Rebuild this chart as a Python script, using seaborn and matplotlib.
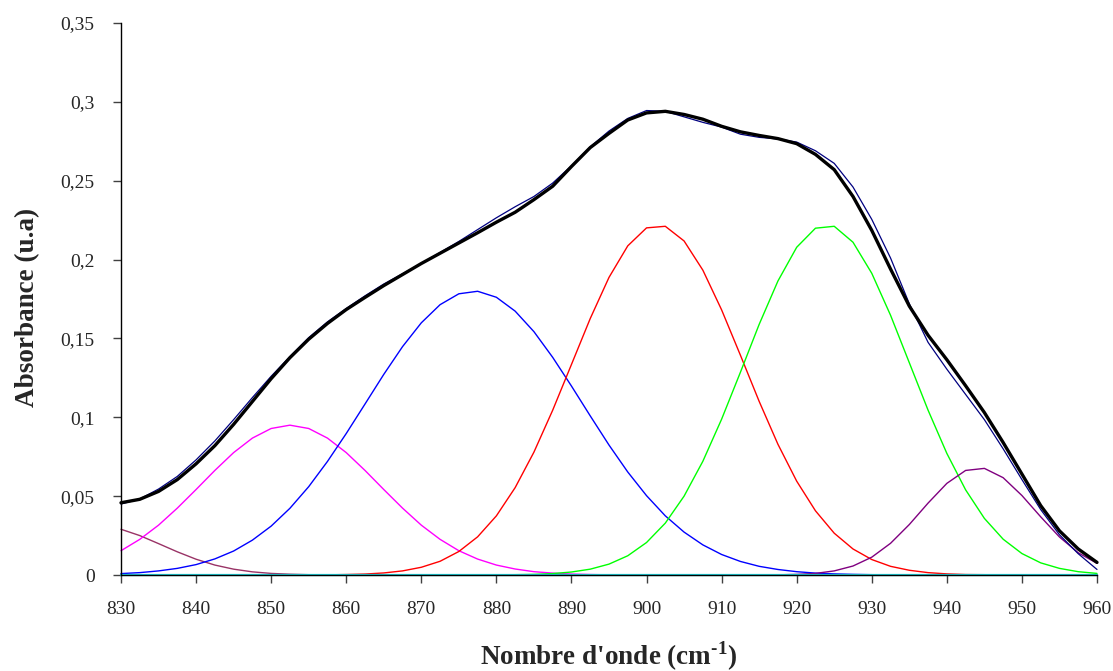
import matplotlib
matplotlib.use('Agg')
import matplotlib.pyplot as plt
import seaborn as sns

# wavenumber grid (cm-1), values every 2.5 cm-1
wavenumber = [830.0, 832.5, 835.0, 837.5, 840.0, 842.5, 845.0, 847.5, 850.0, 852.5,
              855.0, 857.5, 860.0, 862.5, 865.0, 867.5, 870.0, 872.5, 875.0, 877.5,
              880.0, 882.5, 885.0, 887.5, 890.0, 892.5, 895.0, 897.5, 900.0, 902.5,
              905.0, 907.5, 910.0, 912.5, 915.0, 917.5, 920.0, 922.5, 925.0, 927.5,
              930.0, 932.5, 935.0, 937.5, 940.0, 942.5, 945.0, 947.5, 950.0, 952.5,
              955.0, 957.5, 960.0]

# experimental spectrum (navy)
experimental = [0.0450, 0.0482, 0.0545, 0.0625, 0.0730, 0.0850, 0.0985, 0.1125, 0.1260, 0.1385,
                0.1505, 0.1605, 0.1690, 0.1770, 0.1845, 0.1910, 0.1975, 0.2045, 0.2115, 0.2190,
                0.2265, 0.2335, 0.2400, 0.2485, 0.2595, 0.2715, 0.2815, 0.2895, 0.2945, 0.2940,
                0.2905, 0.2870, 0.2840, 0.2795, 0.2775, 0.2765, 0.2745, 0.2690, 0.2610, 0.2460,
                0.2255, 0.2010, 0.1720, 0.1475, 0.1305, 0.1145, 0.0985, 0.0800, 0.0605, 0.0415,
                0.0255, 0.0135, 0.0035]

# fitted envelope (thick black)
fit_sum = [0.0458, 0.0480, 0.0530, 0.0605, 0.0705, 0.0820, 0.0955, 0.1100, 0.1245, 0.1378,
           0.1495, 0.1595, 0.1683, 0.1760, 0.1835, 0.1905, 0.1975, 0.2040, 0.2105, 0.2170,
           0.2237, 0.2300, 0.2380, 0.2465, 0.2590, 0.2710, 0.2800, 0.2885, 0.2930, 0.2940,
           0.2920, 0.2890, 0.2845, 0.2810, 0.2787, 0.2767, 0.2735, 0.2667, 0.2570, 0.2400,
           0.2185, 0.1940, 0.1705, 0.1520, 0.1365, 0.1200, 0.1030, 0.0840, 0.0640, 0.0440,
           0.0280, 0.0165, 0.0080]

# individual bands
band_826 = [0.0290, 0.0250, 0.0199, 0.0147, 0.0100, 0.0063, 0.0037, 0.0020, 0.0010, 0.0005,
            0.0002, 0.0001] + [0.0] * 41
band_852 = [0.0154, 0.0226, 0.0316, 0.0424, 0.0542, 0.0663, 0.0776, 0.0868, 0.0929, 0.0950,
            0.0929, 0.0868, 0.0776, 0.0663, 0.0542, 0.0424, 0.0316, 0.0226, 0.0154, 0.0101,
            0.0063, 0.0038, 0.0021, 0.0012, 0.0006, 0.0003, 0.0001] + [0.0] * 26
band_877 = [0.0009, 0.0015, 0.0026, 0.0042, 0.0066, 0.0102, 0.0152, 0.0221, 0.0310, 0.0423,
            0.0560, 0.0720, 0.0897, 0.1084, 0.1272, 0.1448, 0.1599, 0.1714, 0.1783, 0.1799,
            0.1761, 0.1673, 0.1543, 0.1380, 0.1198, 0.1009, 0.0824, 0.0653, 0.0503, 0.0375,
            0.0272, 0.0191, 0.0130, 0.0086, 0.0055, 0.0035, 0.0021, 0.0012, 0.0007, 0.0004,
            0.0002, 0.0001] + [0.0] * 11
band_901 = [0.0] * 11 + [
            0.0001, 0.0003, 0.0006, 0.0013, 0.0026, 0.0049, 0.0087, 0.0149, 0.0242,
            0.0375, 0.0554, 0.0779, 0.1045, 0.1335, 0.1626, 0.1887, 0.2087, 0.2201, 0.2211,
            0.2118, 0.1933, 0.1681, 0.1394, 0.1101, 0.0829, 0.0595, 0.0407, 0.0265, 0.0165,
            0.0098, 0.0055, 0.0030, 0.0015, 0.0007, 0.0003, 0.0002, 0.0001] + [0.0] * 5
band_924 = [0.0] * 20 + [
            0.0001, 0.0002, 0.0004, 0.0009, 0.0019, 0.0037, 0.0069, 0.0122, 0.0206, 0.0329,
            0.0500, 0.0721, 0.0988, 0.1285, 0.1589, 0.1864, 0.2078, 0.2199, 0.2211, 0.2110,
            0.1913, 0.1647, 0.1346, 0.1045, 0.0771, 0.0540, 0.0359, 0.0227, 0.0136, 0.0077,
            0.0042, 0.0021, 0.0010]
band_944 = [0.0] * 35 + [
            0.0001, 0.0004, 0.0010, 0.0026, 0.0057, 0.0113, 0.0201, 0.0320, 0.0456, 0.0581,
            0.0663, 0.0676, 0.0617, 0.0504, 0.0369, 0.0241, 0.0141, 0.0074]
baseline = [0.0] * 53

x_ticks = [830, 840, 850, 860, 870, 880, 890, 900, 910, 920, 930, 940, 950, 960]
y_ticks = [0, 0.05, 0.1, 0.15, 0.2, 0.25, 0.3, 0.35]
y_tick_labels = ['0', '0,05', '0,1', '0,15', '0,2', '0,25', '0,3', '0,35']

sns.set_style('ticks')
plt.rcParams['font.family'] = ['Liberation Serif', 'DejaVu Serif']
plt.rcParams['mathtext.fontset'] = 'custom'
plt.rcParams['mathtext.rm'] = 'Liberation Serif:bold'
plt.rcParams['mathtext.bf'] = 'Liberation Serif:bold'

fig = plt.figure(figsize=(11.13, 6.71), dpi=100)
ax = fig.add_axes([121 / 1113, 96 / 671, 976 / 1113, 552 / 671])

bands = [(band_826, '#993366'), (band_852, '#FF00FF'), (band_877, '#0000FF'),
         (band_901, '#FF0000'), (band_924, '#00FF00'), (band_944, '#800080')]
for vals, col in bands:
    sns.lineplot(x=wavenumber, y=vals, color=col, linewidth=1.0, ax=ax, clip_on=False)

sns.lineplot(x=wavenumber, y=baseline, color='#1ED2DC', linewidth=1.6, ax=ax, clip_on=False)
sns.lineplot(x=wavenumber, y=experimental, color='#000080', linewidth=0.9, ax=ax, clip_on=False)
sns.lineplot(x=wavenumber, y=fit_sum, color='black', linewidth=2.4, ax=ax, clip_on=False)

ax.set_xlim(830, 960)
ax.set_ylim(0, 0.35)
ax.set_xticks(x_ticks)
ax.set_xticklabels([str(t) for t in x_ticks])
ax.set_yticks(y_ticks)
ax.set_yticklabels(y_tick_labels)
ax.tick_params(axis='both', direction='out', length=6, width=1, color='#404040', labelsize=14)
ax.tick_params(axis='x', pad=13)
ax.tick_params(axis='y', pad=13)
for s in ['left', 'bottom']:
    ax.spines[s].set_linewidth(1.0)
    ax.spines[s].set_color('black')
sns.despine(ax=ax)

ax.set_xlabel(r"Nombre d'onde (cm$^{\text{-1}}$)", fontsize=19.5, fontweight='bold')
ax.set_ylabel('Absorbance (u.a)', fontsize=19.5, fontweight='bold')
ax.xaxis.set_label_coords(0.5, -0.116)
ax.yaxis.set_label_coords(-0.083, 0.484)

fig.savefig('out.png', dpi=100)
